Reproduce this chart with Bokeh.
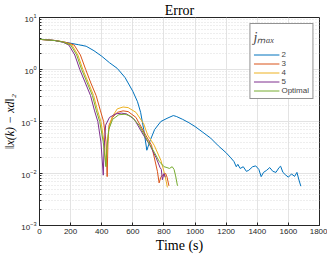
from bokeh.plotting import figure
from bokeh.models import FixedTicker, Legend, LegendItem, Range1d
from bokeh.embed import file_html
from bokeh.resources import INLINE

# ---- data ----
labels = ["2", "3", "4", "5", "Optimal"]
colors = ["#0072BD", "#D95319", "#EDB120", "#7E2F8E", "#77AC30"]

t_2 = [0, 50, 100, 150, 200, 250, 300, 350, 400, 450, 500, 550, 600, 630, 650, 670, 690,
       710, 740, 780, 820, 860, 880, 920, 960, 1000, 1050, 1100, 1150, 1200, 1230, 1250,
       1265, 1275, 1290, 1310, 1330, 1345, 1370, 1390, 1410, 1425, 1440, 1460, 1480, 1500,
       1520, 1540, 1550, 1565, 1580, 1600, 1620, 1640, 1655, 1668, 1680]
e_2 = [3.8, 3.75, 3.6, 3.4, 3.2, 3.0, 2.8, 2.3, 1.8, 1.35, 1.05, 0.7, 0.38, 0.24, 0.15,
       0.07, 0.028, 0.042, 0.07, 0.10, 0.115, 0.13, 0.125, 0.11, 0.095, 0.08, 0.062, 0.048,
       0.034, 0.025, 0.02, 0.017, 0.0135, 0.015, 0.0125, 0.0135, 0.011, 0.0115, 0.0135,
       0.014, 0.012, 0.0087, 0.0105, 0.0115, 0.013, 0.011, 0.0105, 0.013, 0.0138, 0.0105,
       0.0095, 0.0085, 0.0098, 0.0088, 0.0105, 0.0075, 0.0057]

t_3 = [0, 100, 150, 190, 223, 263, 297, 330, 364, 392, 412, 428, 435, 440, 447, 470, 500,
       537, 570, 620, 675, 720, 758, 769, 780, 790, 811, 820, 832]
e_3 = [3.8, 3.62, 3.42, 3.2, 2.95, 1.9, 1.0, 0.55, 0.316, 0.16, 0.1, 0.04, 0.0087, 0.04,
       0.085, 0.12, 0.15, 0.16, 0.155, 0.12, 0.06, 0.035, 0.011, 0.0066, 0.0085, 0.0093,
       0.01, 0.0085, 0.0058]

t_4 = [0, 100, 150, 209, 247, 279, 315, 348, 374, 395, 415, 428, 435, 445, 465, 500,
       537, 570, 620, 670, 695, 737, 780, 800, 815, 822]
e_4 = [3.8, 3.6, 3.4, 2.95, 1.9, 1.0, 0.55, 0.316, 0.16, 0.1, 0.04, 0.014, 0.03,
       0.07, 0.12, 0.175, 0.19, 0.185, 0.15, 0.09, 0.055, 0.035, 0.018, 0.011, 0.007,
       0.0054]

t_5 = [0, 100, 150, 189, 227, 259, 295, 328, 354, 375, 395, 410, 415, 425, 450, 490, 526,
       560, 610, 668, 710, 750, 775, 783, 790, 800, 808]
e_5 = [3.8, 3.6, 3.35, 2.95, 1.9, 1.0, 0.55, 0.316, 0.16, 0.1, 0.04, 0.0093, 0.03, 0.085,
       0.12, 0.14, 0.145, 0.14, 0.11, 0.055, 0.035, 0.02, 0.013, 0.012, 0.0076, 0.01,
       0.0085]

t_opt = [0, 100, 150, 201, 239, 271, 307, 340, 366, 387, 410, 427, 433, 445, 470, 510,
         550, 590, 640, 670, 700, 740, 770, 801, 820, 835, 853, 865, 875, 887]
e_opt = [3.8, 3.6, 3.38, 2.95, 1.9, 1.0, 0.55, 0.316, 0.16, 0.1, 0.04, 0.0135, 0.03,
         0.07, 0.11, 0.135, 0.138, 0.125, 0.085, 0.058, 0.04, 0.025, 0.017, 0.0135, 0.013,
         0.0125, 0.0135, 0.012, 0.009, 0.0058]

x_ticks = [0, 200, 400, 600, 800, 1000, 1200, 1400, 1600, 1800]
y_ticks = [1e-3, 1e-2, 1e-1, 1e0, 1e1]

series_t = [t_2, t_3, t_4, t_5, t_opt]
series_e = [e_2, e_3, e_4, e_5, e_opt]

# ---- figure ----
p = figure(frame_width=280, frame_height=208, y_axis_type="log",
           x_range=Range1d(0, 1800), y_range=Range1d(1e-3, 10),
           output_backend="svg", toolbar_location=None, title="Error",
           min_border_left=0, min_border_right=8, min_border_top=0, min_border_bottom=0)

p.title.align = "center"
p.title.text_font = "Liberation Serif"
p.title.text_font_size = "14px"
p.title.text_font_style = "normal"
p.title.text_color = "#000000"
p.title.standoff = 0

p.background_fill_color = "white"
p.border_fill_color = "white"
p.outline_line_color = "#262626"
p.outline_line_width = 1

p.xaxis.ticker = FixedTicker(ticks=x_ticks, minor_ticks=[])
minor = [m * 10.0 ** k for k in range(-3, 1) for m in range(2, 10)]
p.yaxis.ticker = FixedTicker(ticks=y_ticks, minor_ticks=minor)

for ax in (p.xaxis[0], p.yaxis[0]):
    ax.axis_line_color = "#262626"
    ax.major_tick_line_color = "#262626"
    ax.minor_tick_line_color = "#262626"
    ax.major_tick_in = 3
    ax.major_tick_out = 0
    ax.minor_tick_in = 2
    ax.minor_tick_out = 0
    ax.major_label_text_font = "Liberation Sans"
    ax.major_label_text_font_size = "8px"
    ax.major_label_text_color = "#262626"
    ax.major_label_standoff = 3
    ax.axis_label_text_font = "Liberation Serif"
    ax.axis_label_text_color = "#000000"
    ax.axis_label_standoff = 1

p.xaxis.axis_label = "Time (s)"
p.xaxis.axis_label_text_font_style = "normal"
p.xaxis.axis_label_text_font_size = "14px"
p.yaxis.axis_label = "‖x(k) − xd‖₂"
p.yaxis.axis_label_text_font_style = "italic"
p.yaxis.axis_label_text_font_size = "12px"

p.xgrid.grid_line_color = "#e3e3e3"
p.ygrid.grid_line_color = "#e3e3e3"
p.ygrid.minor_grid_line_color = "#dcdcdc"
p.ygrid.minor_grid_line_dash = "1 2"

items = []
for t, e, c, lab in zip(series_t, series_e, colors, labels):
    r = p.line(t, e, line_color=c, line_width=1)
    items.append(LegendItem(label=lab, renderers=[r]))

legend = Legend(items=items, location="top_right",
                title="j\u2098\u2090\u2093",
                title_text_font="Liberation Serif", title_text_font_size="14px",
                title_text_font_style="italic", title_standoff=4,
                label_text_font="Liberation Sans", label_text_font_size="8px",
                label_height=9, glyph_height=9, glyph_width=26, label_standoff=2,
                spacing=0, padding=3, margin=6,
                border_line_color="#262626", border_line_width=1,
                background_fill_alpha=1.0)
p.add_layout(legend)

open("out.html", "w").write(file_html(p, INLINE))
